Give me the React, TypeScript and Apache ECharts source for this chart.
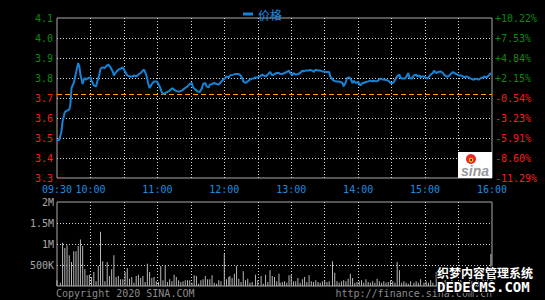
import React, { useEffect, useRef } from "react";
import * as echarts from "echarts";

const PREV_CLOSE = 3.72;
const SERIES_NAME = "价格";

// minutes after 09:30
const priceMinutes = [
  0, 2, 4, 5, 7, 9, 11, 12, 13, 15, 16, 18, 19, 20, 21, 23, 24, 25, 26, 28,
  30, 31, 33, 35, 36, 38, 39, 41, 43, 44, 46, 48, 50, 51, 53, 55, 57, 59, 61, 63,
  65, 68, 69, 71, 73, 75, 77, 78, 80, 82, 83, 85, 87, 89, 90, 92, 94, 95, 97, 99,
  101, 103, 104, 106, 108, 110, 112, 113, 115, 117, 119, 121, 122, 124, 126, 128, 130, 131, 133, 134,
  136, 137, 139, 141, 143, 145, 147, 149, 151, 152, 154, 155, 158, 160, 162, 164, 166, 167, 169, 171,
  173, 175, 176, 178, 180, 182, 184, 185, 187, 189, 191, 193, 195, 197, 199, 200, 202, 204, 206, 208,
  209, 211, 212, 214, 216, 218, 220, 221, 223, 225, 227, 229, 230, 232, 234, 236, 238, 239, 241, 243,
  244, 245, 247, 248, 250, 252, 254, 256, 257, 259, 260, 262, 263, 265, 266, 268, 270, 272, 274, 275,
  277, 279, 281, 283, 284, 286, 288, 290, 292, 293, 295, 297, 299, 301, 302, 304, 305, 307, 308, 310,
  312, 314, 315, 316, 318, 320, 322, 323, 325, 326, 327, 329, 330, 332, 333, 335, 337, 338, 340, 342,
  344, 346, 347, 349, 351, 353, 355, 356, 358, 360, 362, 364, 365, 367, 369, 371, 373, 374, 376, 378,
  380, 382, 383, 385, 387, 389,
];
const prices = [
  3.487, 3.49, 3.533, 3.583, 3.63, 3.637, 3.642, 3.667, 3.75, 3.775, 3.8, 3.85, 3.875, 3.858, 3.817, 3.77, 3.792, 3.8, 3.792, 3.8,
  3.803, 3.787, 3.763, 3.758, 3.78, 3.817, 3.847, 3.853, 3.85, 3.858, 3.867, 3.853, 3.833, 3.813, 3.83, 3.842, 3.847, 3.853, 3.833, 3.813,
  3.808, 3.808, 3.813, 3.808, 3.817, 3.825, 3.837, 3.842, 3.817, 3.767, 3.75, 3.77, 3.783, 3.783, 3.78, 3.758, 3.728, 3.72, 3.725, 3.73,
  3.737, 3.747, 3.747, 3.737, 3.733, 3.733, 3.737, 3.742, 3.75, 3.758, 3.77, 3.775, 3.753, 3.742, 3.733, 3.73, 3.75, 3.77, 3.775, 3.758,
  3.753, 3.767, 3.77, 3.775, 3.77, 3.767, 3.78, 3.792, 3.8, 3.808, 3.803, 3.813, 3.817, 3.82, 3.82, 3.817, 3.8, 3.783, 3.775, 3.783,
  3.792, 3.797, 3.797, 3.803, 3.803, 3.808, 3.817, 3.813, 3.808, 3.817, 3.83, 3.813, 3.82, 3.825, 3.825, 3.82, 3.82, 3.825, 3.83, 3.837,
  3.825, 3.813, 3.825, 3.817, 3.82, 3.825, 3.837, 3.833, 3.837, 3.837, 3.84, 3.837, 3.83, 3.842, 3.837, 3.837, 3.833, 3.833, 3.83, 3.83,
  3.83, 3.808, 3.792, 3.787, 3.783, 3.783, 3.78, 3.775, 3.758, 3.78, 3.8, 3.803, 3.797, 3.775, 3.787, 3.775, 3.78, 3.763, 3.775, 3.775,
  3.78, 3.783, 3.787, 3.783, 3.787, 3.783, 3.787, 3.797, 3.792, 3.792, 3.79, 3.787, 3.775, 3.775, 3.78, 3.8, 3.808, 3.817, 3.8, 3.797,
  3.797, 3.813, 3.825, 3.8, 3.797, 3.813, 3.817, 3.808, 3.813, 3.803, 3.808, 3.808, 3.803, 3.797, 3.803, 3.817, 3.825, 3.837, 3.825, 3.83,
  3.833, 3.825, 3.817, 3.808, 3.808, 3.82, 3.83, 3.825, 3.82, 3.813, 3.813, 3.808, 3.803, 3.808, 3.803, 3.797, 3.792, 3.792, 3.797, 3.792,
  3.8, 3.803, 3.808, 3.803, 3.813, 3.825,
];

const volMinutes = [
  0, 3, 5, 7, 9, 11, 13, 15, 17, 19, 21, 23, 25, 27, 29, 31, 33, 35, 37, 39,
  41, 43, 45, 47, 49, 51, 53, 55, 57, 59, 61, 63, 65, 67, 69, 71, 73, 75, 77, 79,
  81, 83, 85, 87, 89, 91, 93, 95, 97, 99, 101, 103, 105, 107, 109, 111, 113, 115, 117, 119,
  121, 123, 125, 127, 129, 131, 133, 135, 137, 139, 141, 143, 145, 147, 150, 152, 154, 155, 157, 159,
  161, 163, 165, 167, 169, 171, 173, 175, 178, 180, 183, 185, 187, 189, 191, 193, 195, 197, 199, 200,
  202, 204, 206, 208, 210, 212, 214, 216, 218, 220, 222, 224, 226, 228, 230, 232, 234, 236, 238, 240,
  242, 244, 247, 249, 251, 253, 255, 257, 259, 261, 263, 265, 267, 269, 271, 273, 275, 277, 279, 281,
  283, 285, 287, 289, 291, 293, 295, 297, 299, 301, 303, 305, 307, 309, 311, 313, 315, 317, 320, 322,
  324, 326, 329, 331, 333, 335, 337, 340, 342, 344, 346, 348, 350, 352, 354, 356, 358, 360, 362, 364,
  366, 368, 370, 372, 374, 376, 378, 380, 382, 384, 386, 389,
];
// thousands of shares
const volumes = [
  135, 79, 1030, 905, 968, 730, 571, 825, 825, 952, 1110, 952, 397, 254, 270, 214, 333, 111, 476, 1290,
  587, 111, 571, 238, 397, 730, 214, 238, 159, 159, 333, 429, 175, 214, 79, 238, 270, 190, 238, 95,
  532, 333, 190, 214, 111, 95, 476, 135, 492, 95, 159, 111, 270, 214, 135, 95, 111, 135, 135, 135,
  79, 254, 238, 56, 135, 159, 238, 159, 159, 254, 79, 56, 135, 111, 770, 159, 214, 238, 190, 294,
  476, 175, 95, 349, 135, 175, 79, 95, 270, 135, 238, 56, 270, 95, 373, 238, 214, 111, 294, 79,
  95, 111, 79, 254, 270, 111, 111, 190, 79, 159, 214, 95, 254, 111, 95, 135, 95, 79, 111, 135,
  95, 111, 587, 317, 111, 79, 111, 135, 111, 175, 294, 190, 79, 95, 111, 135, 79, 159, 95, 79,
  111, 79, 175, 111, 79, 111, 79, 95, 135, 111, 79, 571, 373, 79, 111, 79, 56, 111, 79, 111,
  79, 159, 79, 111, 79, 135, 79, 333, 95, 111, 79, 135, 95, 111, 159, 79, 111, 95, 135, 79,
  111, 95, 159, 111, 79, 135, 111, 95, 175, 135, 159, 762,
];

const priceMin = 3.3;
const priceMax = 4.1;
const priceStep = 0.1;
const volMax = 2000;
const volStep = 500;
const timeTickMinutes = [0, 30, 90, 150, 210, 270, 330, 390];
const timeTickLabels = ["09:30", "10:00", "11:00", "12:00", "13:00", "14:00", "15:00", "16:00"];
const volTickValues = [500, 1000, 1500, 2000];
const volTickLabels = ["500K", "1M", "1.5M", "2M"];

const MONO = "'DejaVu Sans Mono', monospace";
const LINE_BLUE = "#1682d6";
const LABEL_BLUE = "#1a8ce0";
const GREEN = "#0a8c0a";
const RED = "#ff1a1a";

export default function App() {
  const ref = useRef<HTMLDivElement>(null);
  useEffect(() => {
    if (!ref.current) return;
    const chart = echarts.init(ref.current, null, { renderer: "svg" });
    const dotted = { color: "#d8d8d8", type: [1, 2] as any, width: 1 };
    const option: any = {
      animation: false,
      backgroundColor: "#000",
      legend: {
        data: [SERIES_NAME],
        top: 3,
        left: 238,
        icon: "rect",
        itemWidth: 10,
        itemHeight: 3,
        itemGap: 4,
        textStyle: { color: LABEL_BLUE, fontSize: 12, fontFamily: "'Noto Sans CJK SC'" },
      },
      grid: [
        { left: 57, top: 18, width: 435, height: 160, show: true, borderColor: "#aaa", borderWidth: 1 },
        { left: 57, top: 202, width: 435, height: 84, show: true, borderColor: "#aaa", borderWidth: 1 },
      ],
      xAxis: [
        {
          type: "value",
          gridIndex: 0,
          min: 0,
          max: 390,
          interval: 30,
          axisLine: { show: false },
          axisTick: { show: false },
          splitLine: { show: true, showMinLine: false, showMaxLine: false, lineStyle: dotted },
          axisLabel: {
            margin: 6,
            color: LABEL_BLUE,
            fontFamily: MONO,
            fontSize: 10,
            formatter: (v: number) => {
              const i = timeTickMinutes.indexOf(Math.round(v));
              return i >= 0 ? timeTickLabels[i] : "";
            },
          },
        },
        {
          type: "value",
          gridIndex: 1,
          min: 0,
          max: 390,
          interval: 30,
          axisLine: { show: false },
          axisTick: { show: false },
          axisLabel: { show: false },
          splitLine: { show: true, showMinLine: false, showMaxLine: false, lineStyle: dotted },
        },
      ],
      yAxis: [
        {
          type: "value",
          gridIndex: 0,
          position: "left",
          min: priceMin,
          max: priceMax,
          interval: priceStep,
          axisLine: { show: false },
          axisTick: { show: false },
          splitLine: { show: true, showMinLine: false, showMaxLine: false, lineStyle: dotted },
          axisLabel: {
            margin: 4,
            fontFamily: MONO,
            fontSize: 10,
            formatter: (v: number) => v.toFixed(1),
            color: (v: any) => (parseFloat(v) > PREV_CLOSE ? GREEN : RED),
          },
        },
        {
          type: "value",
          gridIndex: 0,
          position: "right",
          min: priceMin,
          max: priceMax,
          interval: priceStep,
          axisLine: { show: false },
          axisTick: { show: false },
          splitLine: { show: false },
          axisLabel: {
            margin: 3,
            fontFamily: MONO,
            fontSize: 10,
            formatter: (v: number) => {
              const p = (v / PREV_CLOSE - 1) * 100;
              return (p >= 0 ? "+" : "") + p.toFixed(2) + "%";
            },
            color: (v: any) => (parseFloat(v) > PREV_CLOSE ? GREEN : RED),
          },
        },
        {
          type: "value",
          gridIndex: 1,
          min: 0,
          max: volMax,
          interval: volStep,
          axisLine: { show: false },
          axisTick: { show: false },
          splitLine: { show: true, showMinLine: false, showMaxLine: false, lineStyle: dotted },
          axisLabel: {
            margin: 3,
            color: "#a8a8a8",
            fontFamily: MONO,
            fontSize: 10,
            formatter: (v: number) => {
              const i = volTickValues.indexOf(Math.round(v));
              return i >= 0 ? volTickLabels[i] : "";
            },
          },
        },
      ],
      series: [
        {
          name: SERIES_NAME,
          type: "line",
          xAxisIndex: 0,
          yAxisIndex: 0,
          data: priceMinutes.map((m, i) => [m, prices[i]]),
          showSymbol: false,
          lineStyle: { color: LINE_BLUE, width: 2 },
          itemStyle: { color: LINE_BLUE },
          z: 5,
          markLine: {
            silent: true,
            symbol: "none",
            label: { show: false },
            lineStyle: { color: "#ff9900", type: [5, 3], width: 1 },
            data: [{ yAxis: PREV_CLOSE }],
          },
        },
        {
          type: "bar",
          xAxisIndex: 1,
          yAxisIndex: 2,
          barWidth: 1,
          itemStyle: { color: "#b8b8b8" },
          data: volMinutes.map((m, i) => [m, volumes[i]]),
        },
      ],
      graphic: [
        { type: "rect", shape: { x: 458, y: 152, width: 34, height: 26 }, style: { fill: "#fff" }, z: 10 },
        { type: "circle", shape: { cx: 471, cy: 159, r: 5 }, style: { fill: "#e6282a" }, z: 11 },
        { type: "circle", shape: { cx: 471, cy: 160, r: 2.2 }, style: { fill: "#f5c400" }, z: 12 },
        { type: "circle", shape: { cx: 471, cy: 160, r: 1 }, style: { fill: "#222" }, z: 13 },
        {
          type: "text",
          x: 475,
          y: 171,
          z: 12,
          style: {
            text: "sina",
            fill: "#999",
            fontSize: 14,
            fontStyle: "italic",
            fontWeight: "bold",
            fontFamily: "Arial, 'Liberation Sans'",
            align: "center",
            verticalAlign: "middle",
          },
        },
        {
          type: "text",
          x: 56,
          y: 293,
          style: { text: "Copyright 2020 SINA.COM", fill: "#8a8a8a", fontSize: 10, fontFamily: MONO, verticalAlign: "middle" },
        },
        {
          type: "text",
          x: 492,
          y: 293,
          style: { text: "http://finance.sina.com.cn", fill: "#8a8a8a", fontSize: 10, fontFamily: MONO, align: "right", verticalAlign: "middle" },
        },
        {
          type: "text",
          x: 437,
          y: 272,
          z: 20,
          style: {
            text: "织梦内容管理系统",
            fill: "#fff",
            stroke: "#000",
            lineWidth: 2,
            fontSize: 12,
            fontWeight: "bold",
            fontFamily: "'Noto Sans CJK SC'",
            verticalAlign: "middle",
          },
        },
        {
          type: "text",
          x: 437,
          y: 287,
          z: 20,
          style: {
            text: "DEDECMS.COM",
            fill: "#fff",
            stroke: "#000",
            lineWidth: 2,
            fontSize: 14,
            fontWeight: "bold",
            fontFamily: MONO,
            verticalAlign: "middle",
          },
        },
      ],
    };
    chart.setOption(option);
    return () => chart.dispose();
  }, []);
  return (
    <div
      ref={ref}
      style={{ position: "fixed", left: 0, top: 0, width: 545, height: 300, background: "#000" }}
    />
  );
}
